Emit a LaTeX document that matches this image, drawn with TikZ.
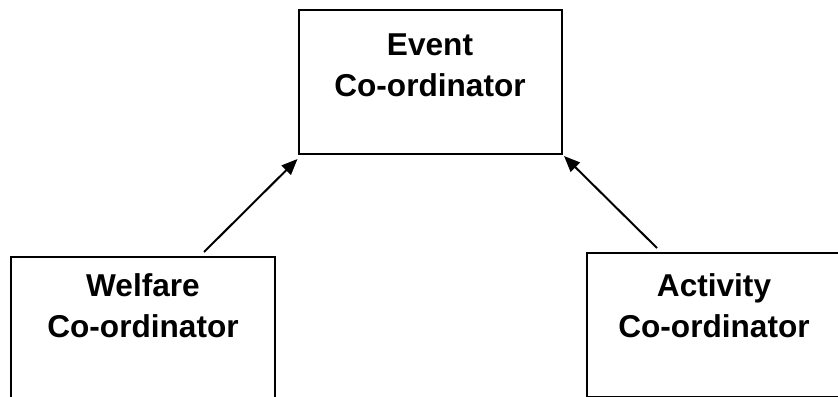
\documentclass[tikz,border=0pt]{standalone}
\usepackage{fontspec}
\setmainfont{Liberation Sans}
\usetikzlibrary{arrows.meta,calc}
\begin{document}
\begin{tikzpicture}[x=0.5pt,y=-0.5pt,
  box/.style={draw,line width=1pt,rectangle,inner sep=0pt,minimum width=#1,minimum height=72pt},
  lbl/.style={font=\bfseries\fontsize{15.8}{20.5}\selectfont,align=center,inner sep=0pt,anchor=north},
  conn/.style={line width=1pt,-{Triangle[length=8pt,width=6.5pt]}}]
\useasboundingbox (0,0) rectangle (838,396);
\clip (0,0) rectangle (838,396);
\node[box=131.75pt] (ev) at (430.25,82) {};
\node[box=132pt] (wel) at (143,329) {};
\node[box=127pt] (act) at (714,325) {};
\node[lbl] (evt) at (430,33) {Event\\Co-ordinator};
\node[lbl] (welt) at (143,273) {Welfare\\Co-ordinator};
\node[lbl] (actt) at (714,273) {Activity\\Co-ordinator};
\coordinate (a1s) at ([xshift=-36pt,yshift=2pt]wel.north east);
\coordinate (a1e) at ([yshift=-2pt]ev.south west);
\coordinate (a2s) at ([xshift=35.5pt,yshift=2pt]act.north west);
\coordinate (a2e) at ([xshift=0.5pt,yshift=-0.5pt]ev.south east);
\draw[conn] (a1s) -- (a1e);
\draw[conn] (a2s) -- (a2e);
\end{tikzpicture}
\end{document}
